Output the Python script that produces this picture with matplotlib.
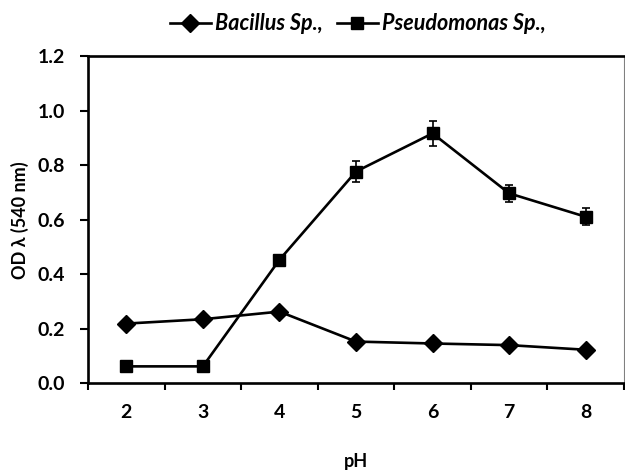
import matplotlib
matplotlib.use("Agg")
import matplotlib.pyplot as plt
from matplotlib.ticker import FixedLocator, NullFormatter
from matplotlib.lines import Line2D
import numpy as np

plt.rcParams['font.family'] = ['Lato', 'DejaVu Sans']
plt.rcParams['font.weight'] = 'bold'

ph = [2, 3, 4, 5, 6, 7, 8]
bacillus = [0.218, 0.234, 0.262, 0.152, 0.145, 0.139, 0.122]
bacillus_err = [0.01, 0.01, 0.01, 0.01, 0.01, 0.01, 0.01]
pseudomonas = [0.061, 0.061, 0.452, 0.776, 0.916, 0.696, 0.610]
pseudomonas_err = [0.005, 0.005, 0.012, 0.038, 0.047, 0.031, 0.031]
yticks = [0.0, 0.2, 0.4, 0.6, 0.8, 1.0, 1.2]
series_names = ['Bacillus Sp.,', 'Pseudomonas Sp.,']

fig = plt.figure(figsize=(6.25, 4.7), dpi=100)
ax = fig.add_axes([88/625, 1-383/470, (624-88)/625, (383-56)/470])

ax.errorbar(ph, bacillus, yerr=bacillus_err, fmt='none', ecolor='black',
            capsize=3.2, elinewidth=1.2, capthick=1.2)
ax.errorbar(ph, pseudomonas, yerr=pseudomonas_err, fmt='none', ecolor='black',
            capsize=3.2, elinewidth=1.2, capthick=1.2)
ax.plot(ph, bacillus, color='black', lw=1.9, marker='D', ms=9.2)
ax.plot(ph, pseudomonas, color='black', lw=1.9, marker='s', ms=9.0)

ax.set_xlim(1.5, 8.5)
ax.set_ylim(0, 1.2)
ax.set_yticks(yticks)
ax.set_yticklabels([f"{v:.1f}" for v in yticks])
ax.xaxis.set_major_locator(FixedLocator(np.arange(1.5, 8.6, 1.0)))
ax.xaxis.set_major_formatter(NullFormatter())
ax.xaxis.set_minor_locator(FixedLocator(ph))
ax.set_xticklabels([str(p) for p in ph], minor=True)
ax.tick_params(axis='x', which='major', length=5, width=1.5, direction='out')
ax.tick_params(axis='x', which='minor', length=0, pad=15, labelsize=14)
ax.tick_params(axis='y', length=6, width=1.5, direction='out', pad=10.5, labelsize=14)

for s in ['left', 'bottom', 'top']:
    ax.spines[s].set_linewidth(1.9)
    ax.spines[s].set_color('black')
ax.spines['right'].set_linewidth(0.8)
ax.spines['right'].set_color('#808080')

fig.text(20/625, 1-220/470, 'OD λ (540 nm)', rotation=90, ha='center', va='center',
         fontsize=13, fontweight='bold')
fig.text((88+624)/2/625, 1-462/470, 'pH', ha='center', va='center', fontsize=13, fontweight='bold')

handles = [Line2D([], [], color='black', lw=1.9, marker='D', ms=9.2),
           Line2D([], [], color='black', lw=1.9, marker='s', ms=9.0)]
fig.legend(handles, series_names, loc='center', bbox_to_anchor=(358/625, 1-24/470), ncol=2,
           frameon=False, prop={'style': 'italic', 'weight': 'bold', 'size': 15.5},
           handlelength=1.9, handletextpad=0.2, columnspacing=0.65)

fig.savefig('out.png', dpi=100)
